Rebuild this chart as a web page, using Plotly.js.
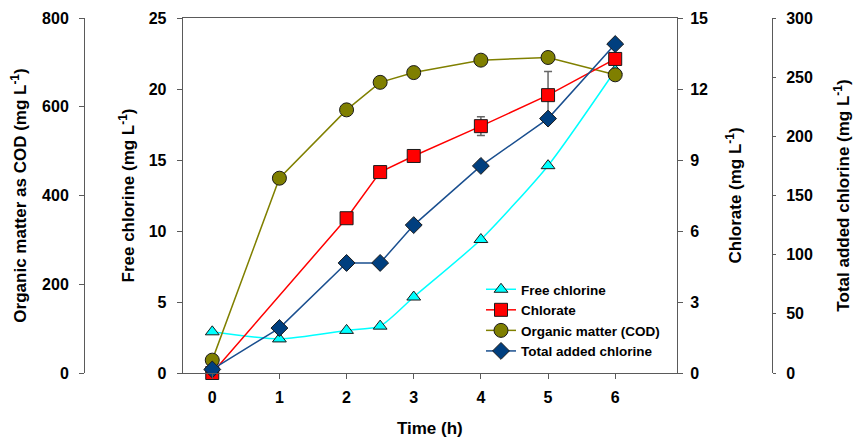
<!DOCTYPE html>
<html>
<head>
<meta charset="utf-8">
<script src="https://cdn.plot.ly/plotly-3.0.1.min.js"></script>
<style>html,body{margin:0;padding:0;background:#fff;}#chart{width:853px;height:438px;}</style>
</head>
<body>
<div id="chart"></div>
<script>
// Data
const timeFree = [0, 1, 2, 2.5, 3, 4, 5, 6];
const freeChlorine = [2.9, 2.4, 3.0, 3.3, 5.35, 9.4, 14.6, 21.3];

const timeChlorate = [0, 2, 2.5, 3, 4, 5, 6];
const chlorate = [0, 6.54, 8.49, 9.17, 10.43, 11.74, 13.27];
const chlorateErr = [0, 0, 0, 0, 0.4, 1.0, 0];

const timeCOD = [0, 1, 2, 2.5, 3, 4, 5, 6];
const cod = [29, 439, 593, 655, 677, 705, 711, 672];

const timeTotal = [0, 1, 2, 2.5, 3, 4, 5, 6];
const totalAdded = [3, 38, 93, 93, 125, 175, 215, 278];

const xTicks = [0, 1, 2, 3, 4, 5, 6];

const W = 853, H = 438;
const fam = 'Arial, "Liberation Sans", sans-serif';
const tickFont = {family: fam, size: 16, color: '#000', weight: 'bold'};
const titleFont = {family: fam, size: 17, color: '#000', weight: 'bold'};
const axisColor = '#5a5a5a';
const xL = 182.7 / W, xR = 677 / W;
const yDom = [1 - 373 / H, 1 - 18 / H];

const markerLine = {color: '#1a1a1a', width: 1};

const traces = [
  {x: timeFree, y: freeChlorine, name: 'Free chlorine', yaxis: 'y', type: 'scatter', mode: 'lines+markers',
   line: {color: '#00ffff', width: 1.5, shape: 'spline', smoothing: 0.6},
   marker: {symbol: 'triangle-up', size: 12, color: '#00ffff', line: markerLine}, cliponaxis: false},
  {x: timeChlorate, y: chlorate, name: 'Chlorate', yaxis: 'y3', type: 'scatter', mode: 'lines+markers',
   line: {color: '#ff0000', width: 1.5},
   error_y: {type: 'data', array: chlorateErr, visible: true, color: '#666666', thickness: 1.5, width: 4},
   marker: {symbol: 'square', size: 13, color: '#ff0000', line: markerLine}, cliponaxis: false},
  {x: timeCOD, y: cod, name: 'Organic matter (COD)', yaxis: 'y2', type: 'scatter', mode: 'lines+markers',
   line: {color: '#808000', width: 1.5},
   marker: {symbol: 'circle', size: 14, color: '#7f7f00', line: markerLine}, cliponaxis: false},
  {x: timeTotal, y: totalAdded, name: 'Total added chlorine', yaxis: 'y4', type: 'scatter', mode: 'lines+markers',
   line: {color: '#1a4f8f', width: 1.5},
   marker: {symbol: 'diamond', size: 13, color: '#003f7f', line: markerLine}, cliponaxis: false}
];

const yCommon = {showgrid: false, zeroline: false, showline: true, linecolor: axisColor, linewidth: 1,
  ticks: 'outside', ticklen: 5, tickcolor: axisColor, tickfont: tickFont, domain: yDom, fixedrange: true};

const layout = {
  width: W, height: H,
  margin: {l: 0, r: 0, t: 0, b: 0},
  paper_bgcolor: '#fff', plot_bgcolor: 'rgba(0,0,0,0)',
  font: {family: fam, size: 15, color: '#000'},
  showlegend: true,
  legend: {x: 481 / W, y: 1 - 274 / H, xanchor: 'left', yanchor: 'top', bgcolor: 'rgba(0,0,0,0)',
    font: {family: fam, size: 13.5, color: '#000', weight: 'bold'}, tracegroupgap: 0, itemwidth: 30},
  xaxis: {domain: [xL, xR], range: [-0.44, 6.92], tickvals: xTicks, showgrid: false, zeroline: false,
    showline: true, linecolor: axisColor, mirror: true, ticks: 'outside', ticklen: 5, tickcolor: axisColor,
    tickfont: tickFont, ticklabelstandoff: 5,
    title: {text: 'Time (h)', font: titleFont, standoff: 16}},
  yaxis: {...yCommon, range: [0, 25], tickvals: [0, 5, 10, 15, 20, 25], anchor: 'x', side: 'left',
    ticklabelstandoff: 7,
    title: {text: 'Free chlorine (mg L<sup>-1</sup>)', font: titleFont, standoff: 9}},
  yaxis2: {...yCommon, range: [0, 800], tickvals: [0, 200, 400, 600, 800], overlaying: 'y', anchor: 'free',
    side: 'left', position: 84 / W, ticklabelstandoff: 7,
    title: {text: 'Organic matter as COD (mg L<sup>-1</sup>)', font: titleFont, standoff: 10}},
  yaxis3: {...yCommon, range: [0, 15], tickvals: [0, 3, 6, 9, 12, 15], overlaying: 'y', anchor: 'x', side: 'right',
    ticklabelstandoff: 4,
    title: {text: 'Chlorate (mg L<sup>-1</sup>)', font: titleFont, standoff: 22}},
  yaxis4: {...yCommon, range: [0, 300], tickvals: [0, 50, 100, 150, 200, 250, 300], overlaying: 'y', anchor: 'free',
    side: 'right', position: 772 / W, ticklen: 3, ticklabelstandoff: 7,
    title: {text: 'Total added chlorine (mg L<sup>-1</sup>)', font: titleFont, standoff: 31}}
};

Plotly.newPlot('chart', traces, layout, {staticPlot: true, displayModeBar: false});
</script>
</body>
</html>
